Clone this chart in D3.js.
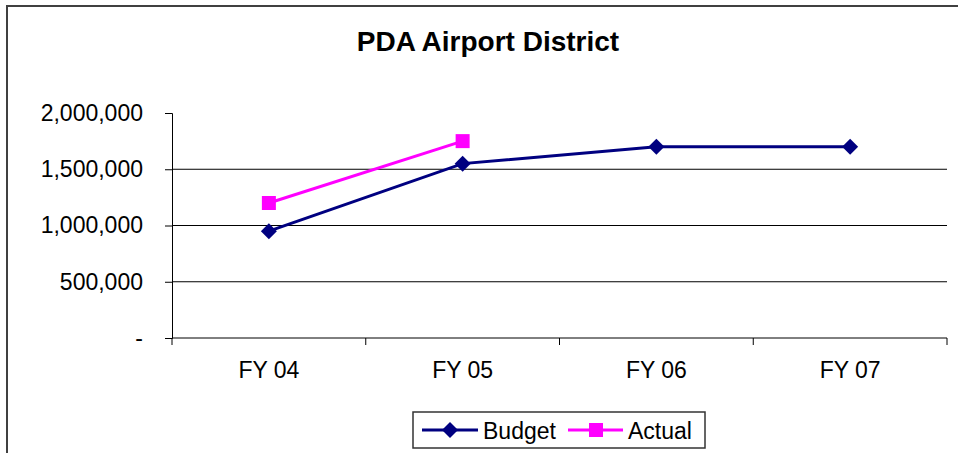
<!DOCTYPE html>
<html>
<head>
<meta charset="utf-8">
<script src="https://cdn.jsdelivr.net/npm/d3@7"></script>
<style>
  body { margin: 0; background: #fff; }
  svg { display: block; font-family: "Liberation Sans", Arial, sans-serif; }
</style>
</head>
<body>
<svg id="chart"></svg>
<script>
const categories = ['FY 04', 'FY 05', 'FY 06', 'FY 07'];
const budget = [950000, 1550000, 1700000, 1700000];
const actual = [1200000, 1750000];
const yTicks = [0, 500000, 1000000, 1500000, 2000000];

const width = 958, height = 453;
const margin = { top: 113, right: 11, bottom: 115, left: 172 };

const svg = d3.select('#chart').attr('width', width).attr('height', height);

// outer frame
svg.append('rect')
  .attr('x', 7).attr('y', 6)
  .attr('width', 960).attr('height', 460)
  .attr('fill', 'none').attr('stroke', '#404040').attr('stroke-width', 2);

svg.append('text')
  .attr('x', 488).attr('y', 51)
  .attr('text-anchor', 'middle')
  .attr('font-size', 28).attr('font-weight', 'bold')
  .text('PDA Airport District');

const x = d3.scaleBand()
  .domain(categories)
  .range([margin.left, width - margin.right]);

const y = d3.scaleLinear()
  .domain([0, 2000000])
  .range([height - margin.bottom, margin.top]);

const fmt = d => d === 0 ? '-' : d3.format(',')(d);

// gridlines
svg.append('g')
  .selectAll('line')
  .data(yTicks.filter(d => d > 0 && d < 2000000))
  .enter().append('line')
  .attr('x1', margin.left).attr('x2', width - margin.right)
  .attr('y1', d => y(d)).attr('y2', d => y(d))
  .attr('stroke', '#000').attr('stroke-width', 1);

const yAxis = svg.append('g')
  .attr('transform', `translate(${margin.left},0)`)
  .call(d3.axisLeft(y).tickValues(yTicks).tickFormat(fmt).tickSize(7).tickPadding(22));
yAxis.select('.domain').attr('stroke', '#000');
yAxis.selectAll('text').attr('font-size', 23).attr('fill', '#000')
  .attr('font-family', '"Liberation Sans", Arial, sans-serif');

const xAxis = svg.append('g')
  .attr('transform', `translate(0,${y(0)})`)
  .call(d3.axisBottom(x).tickSize(0).tickPadding(24));
xAxis.select('.domain').remove();
xAxis.selectAll('text').attr('font-size', 23).attr('fill', '#000')
  .attr('font-family', '"Liberation Sans", Arial, sans-serif');

// x axis line and boundary ticks
svg.append('line')
  .attr('x1', margin.left).attr('x2', width - margin.right)
  .attr('y1', y(0)).attr('y2', y(0))
  .attr('stroke', '#000');
const bounds = categories.map(c => x(c)).concat([x(categories[3]) + x.bandwidth()]);
svg.append('g').selectAll('line').data(bounds).enter().append('line')
  .attr('x1', d => d).attr('x2', d => d)
  .attr('y1', y(0)).attr('y2', y(0) + 7)
  .attr('stroke', '#000');

const cx = i => x(categories[i]) + x.bandwidth() / 2;
const line = d3.line().x((d, i) => cx(i)).y(d => y(d));

svg.append('path').datum(budget)
  .attr('d', line).attr('fill', 'none')
  .attr('stroke', '#000080').attr('stroke-width', 3);
svg.append('path').datum(actual)
  .attr('d', line).attr('fill', 'none')
  .attr('stroke', '#ff00ff').attr('stroke-width', 3);

const diamond = 'M0,-8L8,0L0,8L-8,0Z';
svg.append('g').selectAll('path').data(budget).enter().append('path')
  .attr('d', diamond)
  .attr('transform', (d, i) => `translate(${cx(i)},${y(d)})`)
  .attr('fill', '#000080');
svg.append('g').selectAll('rect').data(actual).enter().append('rect')
  .attr('x', (d, i) => cx(i) - 7).attr('y', d => y(d) - 7)
  .attr('width', 14).attr('height', 14)
  .attr('fill', '#ff00ff');

// legend
const lg = svg.append('g');
lg.append('rect')
  .attr('x', 413).attr('y', 412).attr('width', 292).attr('height', 36)
  .attr('fill', '#fff').attr('stroke', '#333').attr('stroke-width', 1.5);
lg.append('line').attr('x1', 422).attr('x2', 478).attr('y1', 430).attr('y2', 430)
  .attr('stroke', '#000080').attr('stroke-width', 3);
lg.append('path').attr('d', diamond).attr('transform', 'translate(450,430)').attr('fill', '#000080');
lg.append('text').attr('x', 483).attr('y', 439).attr('font-size', 23).text('Budget');
lg.append('line').attr('x1', 568).attr('x2', 623).attr('y1', 430).attr('y2', 430)
  .attr('stroke', '#ff00ff').attr('stroke-width', 3);
lg.append('rect').attr('x', 589).attr('y', 423).attr('width', 14).attr('height', 14).attr('fill', '#ff00ff');
lg.append('text').attr('x', 628).attr('y', 439).attr('font-size', 23).text('Actual');
</script>
</body>
</html>
